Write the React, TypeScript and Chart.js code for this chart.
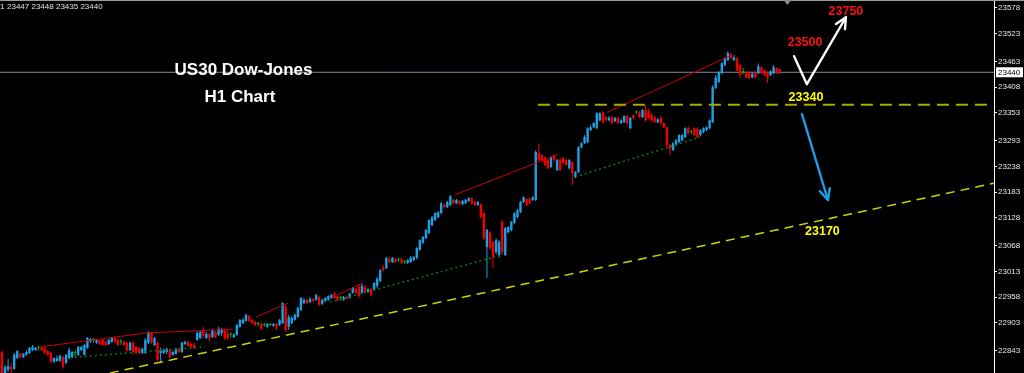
import React, { useEffect, useRef } from 'react';
import { Chart, registerables } from 'chart.js';

Chart.register(...registerables);

// ---- H1 candles (index = bar number, left to right) ----
const OPEN = [
  22840,22795,22802,22808,22804,22827,22836,22829,22834,22838,22844,22844,22849,22849,22849,22842,
  22838,22819,22821,22821,22829,22817,22827,22829,22838,22834,22844,22834,22849,22862,22866,22860,
  22864,22866,22862,22857,22862,22870,22866,22862,22862,22860,22844,22860,22851,22849,22838,22838,
  22860,22881,22855,22860,22838,22838,22840,22844,22834,22836,22847,22840,22857,22862,22857,22855,
  22866,22870,22887,22870,22879,22872,22883,22877,22881,22887,22879,22877,22872,22877,22894,22902,
  22907,22917,22909,22905,22900,22900,22898,22894,22898,22896,22900,22898,22902,22937,22894,22902,
  22909,22915,22930,22945,22952,22947,22954,22952,22958,22943,22950,22952,22956,22965,22960,22956,
  22952,22958,22956,22967,22975,22980,22967,22980,22969,22975,22973,22982,22992,23022,23020,
  23039,23033,23039,23037,23039,23033,23031,23033,23037,23042,23059,23074,23084,23095,23112,23123,
  23129,23138,23155,23151,23155,23166,23159,23164,23157,23159,23164,23170,23162,23155,23157,23138,
  23065,23097,23076,23054,23048,23119,23048,23097,23102,23117,23129,23140,23162,23168,23168,23166,
  23166,
  23267,23262,23258,23252,23237,23262,23230,23252,23256,23252,23234,23247,23215,23226,23279,23288,
  23290,23316,23322,23320,23337,23354,23344,23337,23344,23335,23342,23331,23333,23346,23320,23348,
  23354,23354,23344,23359,23357,23348,23344,23333,23342,23331,23322,23284,23273,23284,23290,23294,
  23301,23320,23312,23320,23318,23305,23312,23316,23320,23333,
  23406,23419,23438,23455,23466,23479,23466,23470,23455,23440,23440,23440,23429,23440,23438,23451,
  23444,23440,23434,23438,23449,23447,
];
const HIGH = [
  22844,22812,22825,22817,22838,22844,22838,22838,22844,22851,22855,22851,22853,22851,22851,22844,
  22840,22829,22832,22834,22832,22836,22849,22842,22844,22853,22853,22857,22872,22870,22870,22868,
  22866,22868,22864,22868,22872,22872,22868,22868,22864,22862,22862,22862,22853,22851,22849,22870,
  22885,22883,22872,22862,22849,22847,22849,22847,22842,22849,22849,22862,22864,22864,22860,22860,
  22885,22887,22894,22883,22881,22890,22885,22894,22892,22890,22890,22883,22881,22900,22911,22913,
  22922,22920,22911,22907,22905,22905,22902,22902,22902,22902,22902,22911,22947,22941,22920,22917,
  22922,22937,22958,22956,22954,22958,22956,22965,22960,22954,22958,22962,22965,22969,22962,22960,
  22960,22960,22967,22980,22977,22986,22986,22984,22977,22977,22990,23001,23018,23027,23044,
  23044,23044,23042,23042,23042,23037,23039,23046,23046,23065,23082,23089,23104,23125,23132,23140,
  23142,23162,23159,23164,23177,23168,23168,23166,23166,23168,23172,23172,23164,23164,23159,23140,
  23104,23099,23078,23084,23080,23123,23108,23110,23121,23140,23147,23164,23174,23170,23172,23174,
  23273,
  23288,23264,23260,23254,23260,23264,23254,23256,23258,23254,23254,23249,23228,23282,23290,23305,
  23322,23327,23333,23354,23354,23357,23346,23346,23346,23344,23344,23339,23348,23348,23344,23350,
  23359,23357,23361,23369,23361,23352,23346,23342,23346,23333,23324,23286,23290,23297,23307,23307,
  23322,23324,23316,23322,23322,23318,23322,23324,23339,23412,
  23434,23442,23462,23472,23485,23483,23477,23474,23457,23449,23442,23442,23440,23442,23459,23453,
  23447,23442,23444,23455,23451,23448,
];
const LOW = [
  22793,22795,22797,22795,22802,22825,22827,22827,22832,22836,22842,22842,22844,22842,22836,22832,
  22817,22817,22819,22819,22804,22814,22825,22827,22829,22832,22842,22832,22847,22860,22860,22857,
  22855,22853,22853,22855,22860,22860,22853,22855,22853,22840,22842,22834,22836,22836,22836,22836,
  22857,22857,22853,22821,22819,22836,22836,22827,22832,22834,22838,22838,22855,22851,22849,22847,
  22864,22868,22870,22868,22862,22870,22870,22875,22875,22866,22866,22870,22870,22875,22892,22900,
  22905,22905,22900,22896,22894,22887,22894,22892,22896,22894,22887,22896,22900,22883,22887,22900,
  22907,22913,22928,22943,22943,22945,22947,22950,22939,22941,22947,22950,22954,22954,22950,22950,
  22950,22952,22954,22965,22965,22956,22965,22967,22967,22960,22971,22977,22990,23012,23018,
  23031,23031,23031,23033,23029,23029,23029,23031,23035,23039,23057,23072,23082,23093,23110,23121,
  23127,23136,23149,23149,23153,23157,23157,23155,23155,23157,23162,23157,23153,23153,23127,23080,
  22999,23059,23020,23050,23042,23048,23046,23095,23099,23114,23127,23138,23159,23153,23157,23164,
  23164,
  23249,23247,23239,23232,23234,23247,23228,23228,23243,23239,23232,23198,23213,23224,23277,23286,
  23288,23314,23320,23318,23335,23331,23335,23335,23329,23333,23329,23329,23331,23327,23318,23339,
  23350,23342,23342,23335,23339,23335,23331,23331,23327,23320,23279,23262,23271,23282,23288,23292,
  23299,23307,23307,23303,23299,23303,23309,23314,23318,23331,
  23404,23417,23436,23453,23464,23468,23464,23442,23427,23436,23427,23425,23427,23427,23436,23436,
  23432,23417,23432,23436,23436,23435,
];
const CLOSE = [
  22795,22808,22810,22802,22834,22842,22829,22836,22840,22849,22851,22849,22849,22844,22838,22834,
  22819,22827,22827,22832,22808,22834,22844,22840,22838,22851,22851,22855,22870,22868,22866,22866,
  22857,22855,22855,22866,22870,22862,22855,22862,22855,22844,22860,22840,22840,22838,22847,22866,
  22881,22860,22870,22823,22844,22844,22847,22829,22840,22847,22840,22860,22862,22853,22851,22849,
  22881,22883,22875,22879,22870,22887,22872,22890,22890,22870,22870,22877,22877,22898,22909,22909,
  22920,22907,22902,22898,22900,22890,22898,22900,22898,22900,22892,22909,22945,22887,22915,22913,
  22920,22935,22956,22952,22945,22954,22950,22962,22941,22952,22956,22960,22962,22956,22952,22956,
  22958,22954,22965,22977,22967,22960,22982,22969,22975,22962,22988,22997,23016,23016,23042,
  23033,23042,23033,23037,23031,23033,23037,23042,23044,23063,23080,23087,23102,23123,23129,23138,
  23140,23159,23151,23162,23174,23159,23166,23157,23164,23166,23170,23159,23155,23162,23129,23084,
  23102,23063,23044,23080,23076,23054,23106,23108,23119,23138,23144,23162,23172,23155,23159,23172,
  23269,
  23252,23252,23241,23234,23258,23252,23252,23230,23245,23241,23252,23224,23226,23279,23288,23301,
  23320,23322,23331,23352,23352,23333,23337,23342,23331,23342,23331,23337,23346,23331,23342,23342,
  23354,23344,23359,23337,23342,23337,23333,23339,23331,23322,23284,23277,23288,23294,23305,23305,
  23320,23309,23312,23305,23301,23316,23320,23322,23337,23408,
  23429,23440,23459,23470,23481,23470,23472,23444,23434,23440,23429,23427,23436,23429,23453,23438,
  23434,23429,23442,23451,23438,23440,
];

// ---- price axis ----
const Y_TICKS = [23578, 23523, 23463, 23408, 23353, 23293, 23238, 23183, 23128, 23068, 23013, 22958, 22903, 22843];
const Y_MIN = 22795;
const Y_MAX = 23595;
const X_MIN = -0.656;
const X_MAX = 325.25;
const LAST_PRICE = 23440;
const HEADER_VALUES = [23447, 23448, 23435, 23440];

// ---- drawn objects: [barFrom, priceFrom, barTo, priceTo] ----
const RED_LINES = [
  [12.5, 22851, 47.5, 22881],
  [47.5, 22881, 75.7, 22889],
  [83.3, 22915, 93.8, 22945],
  [109.8, 22962, 118.4, 22988],
  [148.5, 23177, 182.3, 23264],
  [198.4, 23354, 239.3, 23477],
];
const GREEN_LINES = [
  [23.9, 22829, 66.6, 22851],
  [107.5, 22947, 161.6, 23044],
  [189.5, 23219, 228.9, 23301],
];
const SUPPORT_TREND = [35.4, 22795, 325.2, 23202];
const SUPPORT_LEVEL = [175.7, 23370.6, 325.2, 23370.6];
const UP_ARROW = [[259.7, 23474.5], [263.9, 23414.5], [276.7, 23558]];
const DOWN_ARROW = [[262.3, 23350], [270.8, 23166]];

const NOTE_TEXT = ['US30 Dow-Jones', 'H1 Chart', '23750', '23500', '23340', '23170'];
const NOTE_BAR = [79.2, 78.0, 276.7, 263.3, 263.6, 269.0];
const NOTE_PRICE = [23434, 23376, 23562, 23496, 23378, 23091];

// ---- styles ----
const FONT = "'Liberation Sans', Arial, sans-serif";
const BULL = '#1DA1E6';
const BEAR = '#F20000';
const DOJI = '#00B400';
const NOTE_STYLE = [
  { color: '#FFFFFF', size: 17 },
  { color: '#FFFFFF', size: 17 },
  { color: '#FF1010', size: 12.5 },
  { color: '#FF1010', size: 12.5 },
  { color: '#FFFF00', size: 12.5 },
  { color: '#FFFF00', size: 12.5 },
];

const N = Math.min(OPEN.length, HIGH.length, LOW.length, CLOSE.length);
const candleColor = (i: number) => (CLOSE[i] > OPEN[i] ? BULL : CLOSE[i] < OPEN[i] ? BEAR : DOJI);

const seg = (s: number[]) => [
  { x: s[0], y: s[1] },
  { x: s[2], y: s[3] },
];

const bgPlugin = {
  id: 'bg',
  beforeDraw(chart: any) {
    const { ctx, width, height } = chart;
    ctx.save();
    ctx.fillStyle = '#000000';
    ctx.fillRect(0, 0, width, height);
    ctx.restore();
  },
};

const overlayPlugin = {
  id: 'overlay',
  afterDraw(chart: any) {
    const { ctx, chartArea, width } = chart;
    const xs = chart.scales.x;
    const ys = chart.scales.y;
    const px = (b: number) => xs.getPixelForValue(b);
    const py = (v: number) => ys.getPixelForValue(v);
    ctx.save();

    // top frame line
    ctx.fillStyle = '#9C9C9C';
    ctx.fillRect(0, 0, width, 1);
    // chart-shift marker
    const sx = px(N + 1.5);
    ctx.fillStyle = '#8A8A8A';
    ctx.beginPath();
    ctx.moveTo(sx - 4, 0);
    ctx.lineTo(sx + 4, 0);
    ctx.lineTo(sx, 5);
    ctx.closePath();
    ctx.fill();

    // arrows
    const arrow = (pts: number[][], color: string, lw: number) => {
      const p = pts.map(([b, v]) => [px(b), py(v)]);
      ctx.strokeStyle = color;
      ctx.lineWidth = lw;
      ctx.lineCap = 'round';
      ctx.lineJoin = 'round';
      ctx.beginPath();
      p.forEach(([a, c], i) => (i ? ctx.lineTo(a, c) : ctx.moveTo(a, c)));
      ctx.stroke();
      const [x1, y1] = p[p.length - 2];
      const [x2, y2] = p[p.length - 1];
      const ang = Math.atan2(y2 - y1, x2 - x1);
      const L = 12;
      const A = Math.PI / 7;
      ctx.beginPath();
      ctx.moveTo(x2 - L * Math.cos(ang - A), y2 - L * Math.sin(ang - A));
      ctx.lineTo(x2, y2);
      ctx.lineTo(x2 - L * Math.cos(ang + A), y2 - L * Math.sin(ang + A));
      ctx.stroke();
    };
    arrow(UP_ARROW, '#FFFFFF', 2.4);
    arrow(DOWN_ARROW, '#1E9FE6', 2.4);

    // notes
    ctx.textAlign = 'center';
    ctx.textBaseline = 'alphabetic';
    NOTE_TEXT.forEach((t, i) => {
      const st = NOTE_STYLE[i];
      ctx.font = `bold ${st.size}px ${FONT}`;
      ctx.fillStyle = st.color;
      ctx.fillText(t, px(NOTE_BAR[i]), py(NOTE_PRICE[i]));
    });

    // header (symbol info)
    ctx.textAlign = 'left';
    ctx.font = `8px ${FONT}`;
    ctx.fillStyle = '#E0E0E0';
    ctx.fillText('1', 0, 9);
    ctx.fillText(HEADER_VALUES.join(' '), 7, 9);

    // last price label on the axis
    const ly = py(LAST_PRICE);
    ctx.fillStyle = '#FFFFFF';
    ctx.fillRect(chartArea.right + 2, ly - 5, 27, 10);
    ctx.fillStyle = '#000000';
    ctx.font = `8px ${FONT}`;
    ctx.textBaseline = 'middle';
    ctx.fillText(String(LAST_PRICE), chartArea.right + 4, ly + 0.5);
    ctx.restore();
  },
};

export default function App() {
  const ref = useRef<HTMLCanvasElement | null>(null);

  useEffect(() => {
    document.body.style.margin = '0';
    document.body.style.background = '#000';
    document.body.style.overflow = 'hidden';
    if (!ref.current) return;

    const lineDs = (s: number[], color: string, w: number, dash: number[], order: number) => ({
      type: 'line' as const,
      data: seg(s),
      borderColor: color,
      borderWidth: w,
      borderDash: dash,
      pointRadius: 0,
      fill: false,
      tension: 0,
      order,
    });

    const idx = Array.from({ length: N }, (_, i) => i);
    const colors = idx.map(candleColor);

    const chart = new Chart(ref.current, {
      type: 'bar',
      data: {
        datasets: [
          lineDs([X_MIN, LAST_PRICE, X_MAX, LAST_PRICE], '#7D8EA3', 1, [], 9),
          {
            type: 'bar',
            data: idx.map((i) => ({ x: i, y: [LOW[i], HIGH[i]] })),
            backgroundColor: colors,
            barThickness: 1,
            minBarLength: 1,
            grouped: false,
            inflateAmount: 0,
            borderWidth: 0,
            order: 8,
          } as any,
          {
            type: 'bar',
            data: idx.map((i) => ({ x: i, y: [OPEN[i], CLOSE[i]] })),
            backgroundColor: colors,
            barThickness: 2.4,
            minBarLength: 1,
            grouped: false,
            inflateAmount: 0,
            borderWidth: 0,
            order: 7,
          } as any,
          ...RED_LINES.map((s) => lineDs(s, '#C80000', 1, [], 3)),
          ...GREEN_LINES.map((s) => lineDs(s, '#0B7A0B', 1.5, [2, 3], 3)),
          lineDs(SUPPORT_TREND, '#D2D200', 1.5, [9, 6], 2),
          lineDs(SUPPORT_LEVEL, '#ABAB00', 2, [12, 7], 2),
        ] as any,
      },
      options: {
        responsive: false,
        animation: false,
        devicePixelRatio: 1,
        events: [],
        layout: { padding: 0 },
        plugins: { legend: { display: false }, tooltip: { enabled: false } },
        scales: {
          x: {
            type: 'linear',
            min: X_MIN,
            max: X_MAX,
            offset: false,
            display: false,
          },
          y: {
            type: 'linear',
            position: 'right',
            min: Y_MIN,
            max: Y_MAX,
            afterBuildTicks: (axis: any) => {
              axis.ticks = Y_TICKS.map((v) => ({ value: v }));
            },
            afterFit: (axis: any) => {
              axis.width = 30;
              axis.paddingTop = 0;
              axis.paddingBottom = 0;
            },
            ticks: {
              autoSkip: false,
              padding: 1,
              color: '#E6E6E6',
              font: { family: FONT, size: 8 },
              callback: (v: any) => String(v),
            },
            grid: {
              display: true,
              drawOnChartArea: false,
              drawTicks: true,
              tickLength: 3,
              color: '#FFFFFF',
            },
            border: { display: true, color: '#FFFFFF', width: 1 },
          },
        },
      } as any,
      plugins: [bgPlugin, overlayPlugin],
    });
    return () => chart.destroy();
  }, []);

  return (
    <div style={{ width: 1024, height: 373, background: '#000' }}>
      <canvas ref={ref} width={1024} height={373} style={{ display: 'block' }} />
    </div>
  );
}
